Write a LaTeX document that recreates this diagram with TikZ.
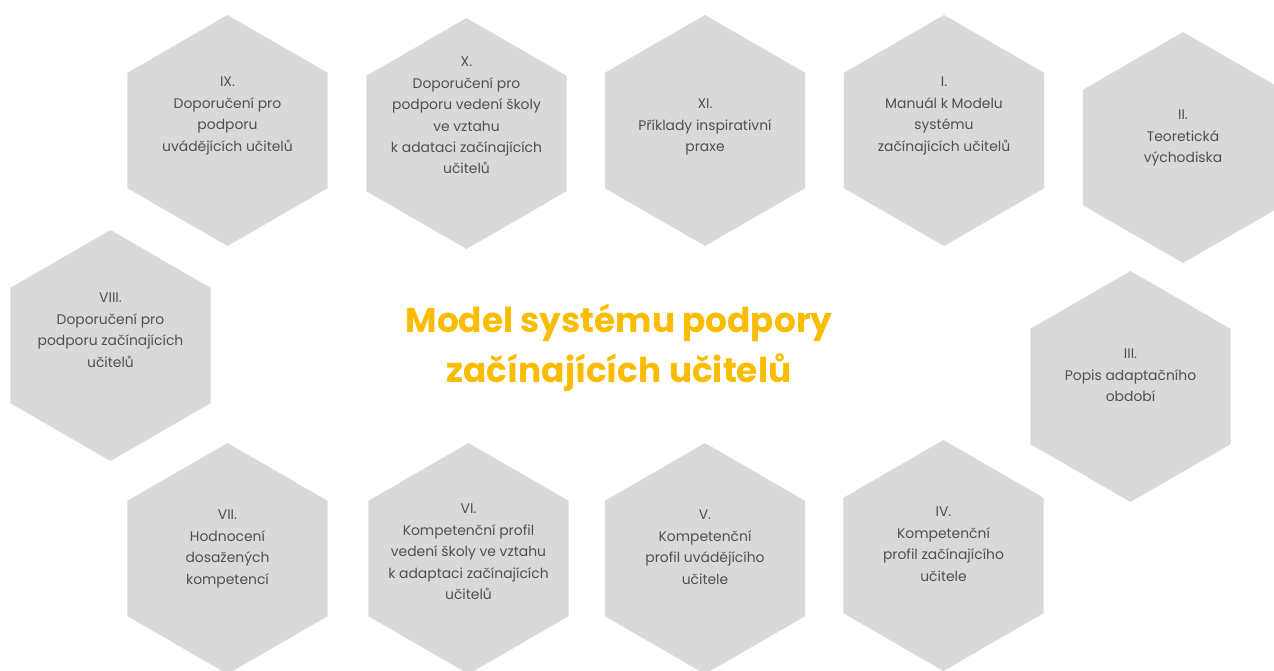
\documentclass[tikz,border=0pt]{standalone}
\usepackage{fontspec}
\setmainfont{Poppins}
\definecolor{hexgrey}{HTML}{D9D9D9}
\definecolor{hexink}{HTML}{505050}
\definecolor{titlegold}{HTML}{F9BC00}
\newcommand\hexR{115.5pt}
% one grey hexagon (pointy top) with its caption
\newcommand\hexcell[5]{%
  \fill[hexgrey] (#2,#3) +(90:\hexR) -- +(30:\hexR) -- +(-30:\hexR)
    -- +(-90:\hexR) -- +(-150:\hexR) -- +(150:\hexR) -- cycle;
  \node[hextext] (#1) at (#2,#4) {#5};
}
\begin{document}
\begin{tikzpicture}[x=1pt,y=-1pt,
  hextext/.style={anchor=north, inner sep=0pt, align=center, text=hexink,
    font=\fontsize{13.9pt}{21.4pt}\selectfont},
  titletext/.style={anchor=north, inner sep=0pt, align=center, text=titlegold,
    font=\fontsize{34.3pt}{50pt}\selectfont\bfseries}]
\useasboundingbox (0,0) rectangle (1274,670);
\clip (0,0) rectangle (1274,670);

% top row
\hexcell{h9}{227.5}{130.5}{77}{IX.\\Doporučení pro\\podporu\\uvádějících učitelů}
\hexcell{h10}{466.5}{133.5}{57}{X.\\Doporučení pro\\podporu vedení školy\\ve vztahu\\k adataci začínajících\\učitelů}
\hexcell{h11}{705}{130.5}{99}{XI.\\Příklady inspirativní\\praxe}
\hexcell{h1}{944}{130.5}{77}{I.\\Manuál k Modelu\\systému\\začínajících učitelů}
\hexcell{h2}{1183}{147.5}{110}{II.\\Teoretická\\východiska}

% middle row
\hexcell{h8}{110.5}{345.5}{293}{VIII.\\Doporučení pro\\podporu začínajících\\učitelů}
\hexcell{h3}{1130.5}{386.5}{349}{III.\\Popis adaptačního\\období}

% bottom row
\hexcell{h7}{227.5}{558.5}{510}{VII.\\Hodnocení\\dosažených\\kompetencí}
\hexcell{h6}{468.5}{558.5}{504}{VI.\\Kompetenční profil\\vedení školy ve vztahu\\k adaptaci začínajících\\učitelů}
\hexcell{h5}{705}{558.5}{510}{V.\\Kompetenční\\profil uvádějícího\\učitele}
\hexcell{h4}{943.5}{555.5}{507}{IV.\\Kompetenční\\profil začínajícího\\učitele}

% central title
\node[titletext] (title) at (619,304) {Model systému podpory\\začínajících učitelů};
\end{tikzpicture}
\end{document}
